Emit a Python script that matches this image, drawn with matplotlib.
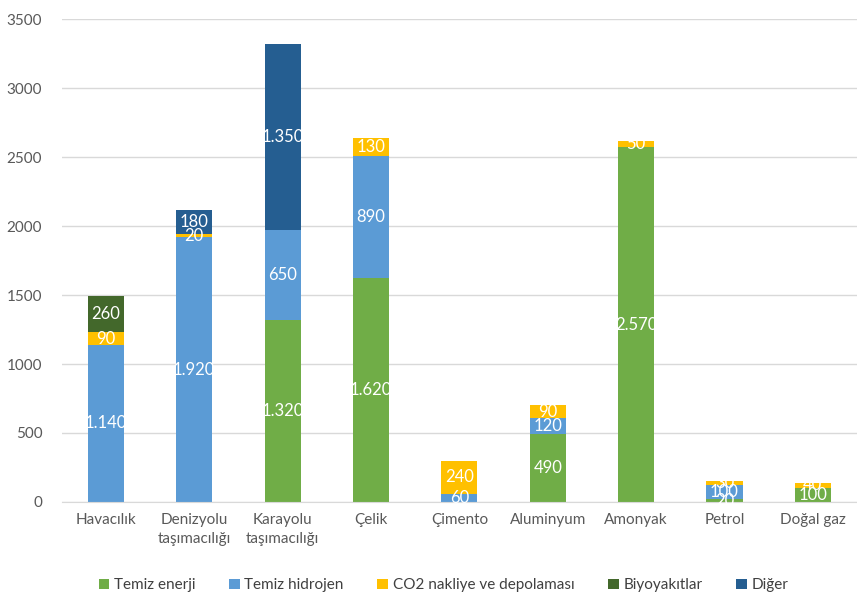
import numpy as np
import matplotlib
matplotlib.use('agg')
import matplotlib.pyplot as plt

categories = ['Havacılık', 'Denizyolu\ntaşımacılığı', 'Karayolu\ntaşımacılığı', 'Çelik',
              'Çimento', 'Aluminyum', 'Amonyak', 'Petrol', 'Doğal gaz']
temiz_enerji = [0, 0, 1320, 1620, 0, 490, 2570, 20, 100]
temiz_hidrojen = [1140, 1920, 650, 890, 60, 120, 0, 100, 0]
co2 = [90, 20, 0, 130, 240, 90, 50, 30, 40]
biyoyakitlar = [260, 0, 0, 0, 0, 0, 0, 0, 0]
diger = [0, 180, 1350, 0, 0, 0, 0, 0, 0]

series = [
    ('Temiz enerji', temiz_enerji, '#70AD47'),
    ('Temiz hidrojen', temiz_hidrojen, '#5B9BD5'),
    ('CO2 nakliye ve depolaması', co2, '#FFC000'),
    ('Biyoyakıtlar', biyoyakitlar, '#43682B'),
    ('Diğer', diger, '#255E91'),
]

plt.rcParams['font.family'] = ['Lato', 'DejaVu Sans']

fig = plt.figure(figsize=(8.57, 5.99), dpi=100)
ax = fig.add_axes([0.072, 0.162, 0.928, 0.806])

x = np.arange(len(categories))
bottom = np.zeros(len(categories))
for name, vals, color in series:
    vals = np.array(vals, dtype=float)
    ax.bar(x, vals, 0.41, bottom=bottom, color=color, label=name, zorder=2)
    for xi, v, b in zip(x, vals, bottom):
        if v > 0:
            txt = '{:,.0f}'.format(v).replace(',', '.')
            ax.text(xi, b + v / 2, txt, ha='center', va='center',
                    color='white', fontsize=12, zorder=3)
    bottom += vals

ax.set_xlim(-0.5, len(categories) - 0.5)
ax.set_ylim(0, 3500)
ax.set_yticks(np.arange(0, 3501, 500))
ax.yaxis.grid(True, color='#D9D9D9', linewidth=1, zorder=0)
ax.set_axisbelow(True)
for s in ['top', 'right', 'left']:
    ax.spines[s].set_visible(False)
ax.spines['bottom'].set_color('#D9D9D9')
ax.tick_params(axis='both', length=0, colors='#595959', labelsize=11)
ax.tick_params(axis='y', pad=14)
ax.tick_params(axis='x', pad=8)
ax.set_xticks(x)
ax.set_xticklabels(categories, linespacing=1.45)

ax.legend(loc='upper center', bbox_to_anchor=(0.48, -0.13), ncol=5, frameon=False,
          fontsize=11, handlelength=0.7, handleheight=0.7, handletextpad=0.3,
          columnspacing=2.2, labelcolor='#404040')

fig.savefig('out.png', dpi=100)
